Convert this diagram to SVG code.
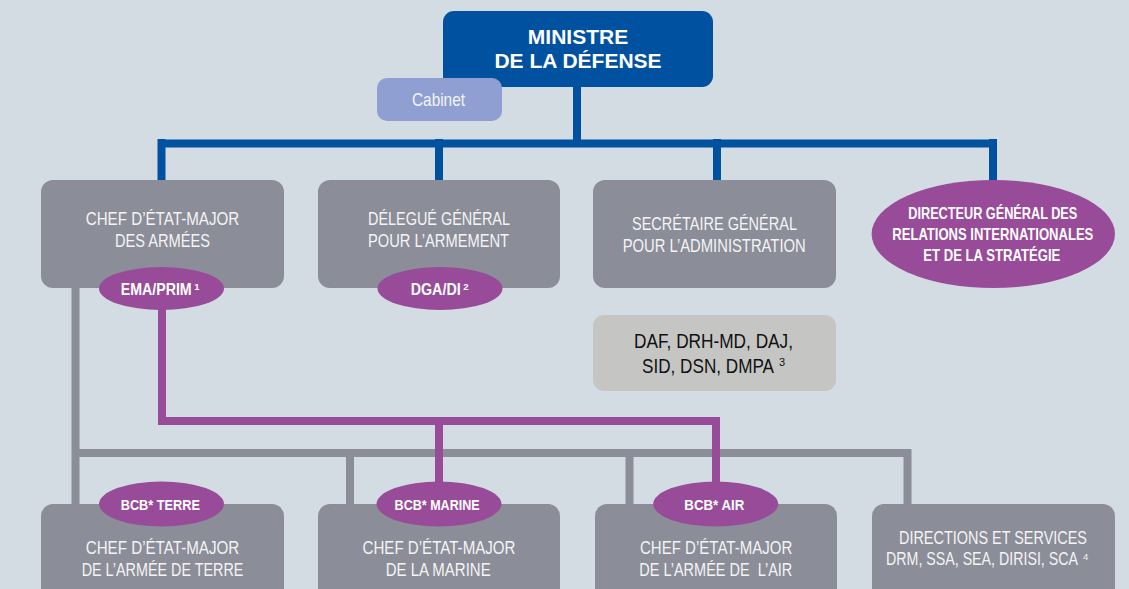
<svg xmlns="http://www.w3.org/2000/svg" width="1129" height="589" viewBox="0 0 1129 589">
<style>
.box{fill:#8b8d99}
.pur{fill:#984b98}
.t{font-family:"Liberation Sans",Arial,sans-serif;font-size:18.5px;fill:#f4f4f4}
.tb{font-family:"Liberation Sans",Arial,sans-serif;font-weight:bold;font-size:16.5px;fill:#ffffff}
.sup{font-size:9.5px}
.lg{fill:none;stroke:#8b8d99;stroke-width:8}
.lp{fill:none;stroke:#984b98;stroke-width:8}
.lb{fill:none;stroke:#0051a0;stroke-width:8}
</style>
<rect x="0" y="0" width="1129" height="589" fill="#d3dce2"/>
<g id="connectors">
<path class="lb" d="M577 87V143M161.5 139V181M439 139V181M717 139V181M993 139V181M157.5 143.5H997"/>
<path class="lg" d="M75.5 288V505M71.5 453H911.5M350 453V505M629.5 453V505M907.5 453V505"/>
<path class="lp" d="M162 305V421M158 421H720M439 417V485M716 417V485"/>
</g>
<g id="ministre">
<rect x="443" y="11" width="270" height="76" rx="11" fill="#0051a0"/>
<text x="578" y="44" font-family="'Liberation Sans',Arial,sans-serif" font-weight="bold" font-size="21" fill="#fff" text-anchor="middle">MINISTRE</text>
<text x="578" y="68" font-family="'Liberation Sans',Arial,sans-serif" font-weight="bold" font-size="21" fill="#fff" text-anchor="middle">DE LA DÉFENSE</text>
</g>
<g id="cabinet">
<rect x="377" y="78" width="125" height="43" rx="10" fill="#8f9fd1"/>
<text class="t" x="412" y="106" textLength="53" lengthAdjust="spacingAndGlyphs">Cabinet</text>
</g>
<g id="cema">
<rect class="box" x="41" y="180" width="243" height="108" rx="12"/>
<text class="t" x="85.7" y="225" textLength="153.6" lengthAdjust="spacingAndGlyphs">CHEF D’ÉTAT-MAJOR</text>
<text class="t" x="115" y="247" textLength="95" lengthAdjust="spacingAndGlyphs">DES ARMÉES</text>
</g>
<g id="ema-prim">
<ellipse class="pur" cx="161.5" cy="288.5" rx="62.5" ry="21.5"/>
<text class="tb" x="120.7" y="295"><tspan textLength="71" lengthAdjust="spacingAndGlyphs">EMA/PRIM</tspan><tspan class="sup" dx="2.5" dy="-5">1</tspan></text>
</g>
<g id="dga">
<rect class="box" x="318" y="180" width="242" height="108" rx="12"/>
<text class="t" x="368" y="225" textLength="142" lengthAdjust="spacingAndGlyphs">DÉLEGUÉ GÉNÉRAL</text>
<text class="t" x="368" y="247" textLength="141" lengthAdjust="spacingAndGlyphs">POUR L’ARMEMENT</text>
</g>
<g id="dga-di">
<ellipse class="pur" cx="440" cy="288.5" rx="62.5" ry="21.5"/>
<text class="tb" x="410.7" y="295"><tspan textLength="50" lengthAdjust="spacingAndGlyphs">DGA/DI</tspan><tspan class="sup" dx="2.5" dy="-5">2</tspan></text>
</g>
<g id="sga">
<rect class="box" x="593" y="180" width="243" height="108" rx="12"/>
<text class="t" x="632" y="230" textLength="165" lengthAdjust="spacingAndGlyphs">SECRÉTAIRE GÉNÉRAL</text>
<text class="t" x="622.7" y="252" textLength="183" lengthAdjust="spacingAndGlyphs">POUR L’ADMINISTRATION</text>
</g>
<g id="dgris">
<ellipse class="pur" cx="993.3" cy="234" rx="121.7" ry="54"/>
<text class="tb" x="908.3" y="219" textLength="169" lengthAdjust="spacingAndGlyphs">DIRECTEUR GÉNÉRAL DES</text>
<text class="tb" x="892.3" y="240" textLength="201" lengthAdjust="spacingAndGlyphs">RELATIONS INTERNATIONALES</text>
<text class="tb" x="923.3" y="261" textLength="137" lengthAdjust="spacingAndGlyphs">ET DE LA STRATÉGIE</text>
</g>
<g id="daf">
<rect x="593" y="315" width="243" height="76" rx="11" fill="#c5c6c4"/>
<text class="t" x="634" y="348" style="font-size:21px;fill:#111" textLength="159" lengthAdjust="spacingAndGlyphs">DAF, DRH-MD, DAJ,</text>
<text class="t" x="642" y="373" style="font-size:21px;fill:#111"><tspan textLength="132" lengthAdjust="spacingAndGlyphs">SID, DSN, DMPA</tspan><tspan dx="5" dy="-7" style="font-size:11px">3</tspan></text>
</g>
<g id="cemat">
<rect class="box" x="41" y="504" width="243" height="100" rx="12"/>
<text class="t" x="85.7" y="554" textLength="153.6" lengthAdjust="spacingAndGlyphs">CHEF D’ÉTAT-MAJOR</text>
<text class="t" x="81.7" y="576" textLength="161.7" lengthAdjust="spacingAndGlyphs">DE L’ARMÉE DE TERRE</text>
</g>
<g id="bcb-terre">
<ellipse class="pur" cx="161.5" cy="504" rx="62.5" ry="22.5"/>
<text class="tb" x="120.7" y="510" style="font-size:15.5px" textLength="79.3" lengthAdjust="spacingAndGlyphs">BCB* TERRE</text>
</g>
<g id="cemm">
<rect class="box" x="318" y="504" width="242" height="100" rx="12"/>
<text class="t" x="362.5" y="554" textLength="153" lengthAdjust="spacingAndGlyphs">CHEF D’ÉTAT-MAJOR</text>
<text class="t" x="385.7" y="576" textLength="105" lengthAdjust="spacingAndGlyphs">DE LA MARINE</text>
</g>
<g id="bcb-marine">
<ellipse class="pur" cx="439" cy="504" rx="62.5" ry="22.5"/>
<text class="tb" x="394.6" y="510" style="font-size:15.5px" textLength="85" lengthAdjust="spacingAndGlyphs">BCB* MARINE</text>
</g>
<g id="cema-air">
<rect class="box" x="595" y="504" width="242" height="100" rx="12"/>
<text class="t" x="640" y="554" textLength="152.3" lengthAdjust="spacingAndGlyphs">CHEF D’ÉTAT-MAJOR</text>
<text class="t" x="639.3" y="576" textLength="153" lengthAdjust="spacingAndGlyphs" xml:space="preserve">DE L’ARMÉE DE  L’AIR</text>
</g>
<g id="bcb-air">
<ellipse class="pur" cx="715.7" cy="504" rx="62.5" ry="22.5"/>
<text class="tb" x="684.3" y="510" style="font-size:15.5px" textLength="60" lengthAdjust="spacingAndGlyphs">BCB* AIR</text>
</g>
<g id="directions">
<rect class="box" x="872" y="504" width="243" height="100" rx="12"/>
<text class="t" x="899" y="544" textLength="188" lengthAdjust="spacingAndGlyphs">DIRECTIONS ET SERVICES</text>
<text class="t" x="886" y="565"><tspan textLength="192" lengthAdjust="spacingAndGlyphs">DRM, SSA, SEA, DIRISI, SCA</tspan><tspan class="sup" dx="5" dy="-5">4</tspan></text>
</g>
</svg>
